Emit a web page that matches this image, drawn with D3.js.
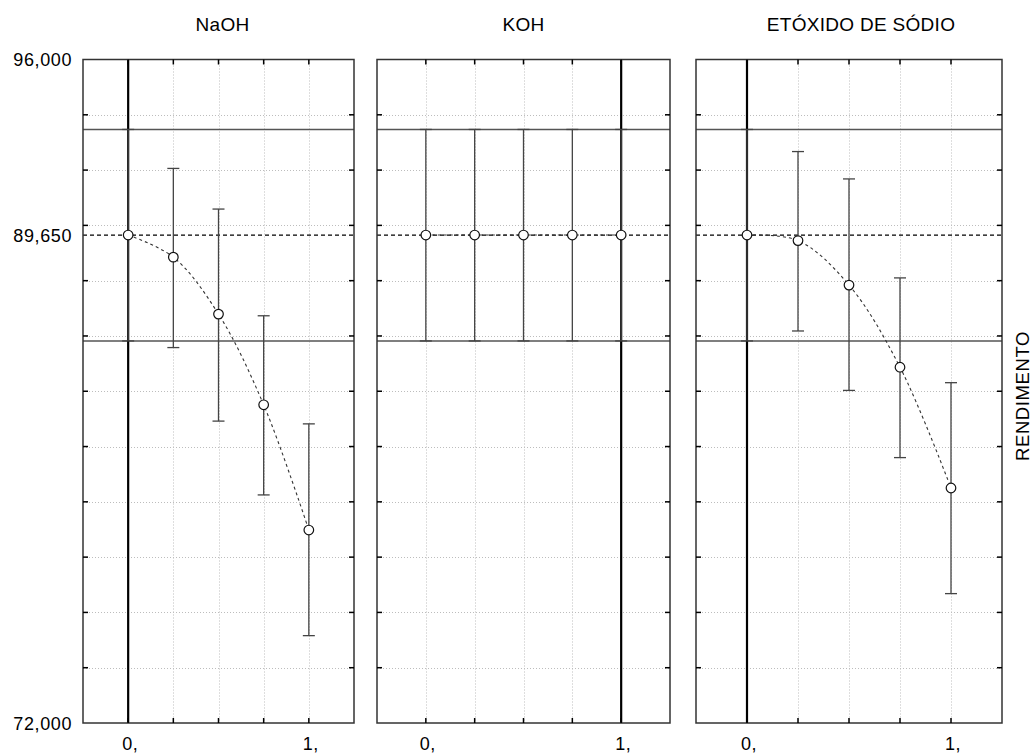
<!DOCTYPE html>
<html><head><meta charset="utf-8">
<script src="https://cdn.jsdelivr.net/npm/d3@7"></script>
<style>
body{margin:0;background:#fff;}
text{font-family:"Liberation Sans",Arial,sans-serif;fill:#000;}
</style></head>
<body><svg id="c" width="1033" height="754"></svg>
<script>
// ---- data ----
const groups = ["NaOH", "KOH", "ETÓXIDO DE SÓDIO"];
const levels = [0, 0.25, 0.5, 0.75, 1];
const currentLevel = [0, 1, 0];
const naohMean = [89.65, 88.85, 86.79, 83.51, 78.98];
const naohLow  = [85.82, 85.58, 82.92, 80.25, 75.16];
const naohHigh = [93.47, 92.06, 90.59, 86.73, 82.82];
const kohMean = [89.65, 89.65, 89.65, 89.65, 89.65];
const kohLow  = [85.82, 85.82, 85.82, 85.82, 85.82];
const kohHigh = [93.47, 93.47, 93.47, 93.47, 93.47];
const etoMean = [89.65, 89.45, 87.84, 84.87, 80.50];
const etoLow  = [85.82, 86.18, 84.03, 81.60, 76.68];
const etoHigh = [93.47, 92.67, 91.68, 88.10, 84.31];
const overallMean = 89.65;
const limitLow = 85.82, limitHigh = 93.47;
const yTickLabels = [96, 89.65, 72];
const xTickLabels = [0, 1];
const yDomain = [72, 96];
const xDomain = [-0.25, 1.25];
const gridStepY = 2;
const yLabel = "RENDIMENTO";

const series = [
  {mean: naohMean, low: naohLow, high: naohHigh},
  {mean: kohMean, low: kohLow, high: kohHigh},
  {mean: etoMean, low: etoLow, high: etoHigh}
];

// ---- layout ----
const panels = [[83, 354], [377, 670], [696, 1002]];
const titleShift = [4, 0, 12];
const yTop = 59.5, yBot = 723;
const svg = d3.select("#c");
const y = d3.scaleLinear().domain(yDomain).range([yBot, yTop]);
const loc = d3.formatLocale({decimal: ",", thousands: ".", grouping: [3], currency: ["", ""]});
const fmtY = loc.format(".3f");
const gridY = d3.range(yDomain[0] + gridStepY, yDomain[1], gridStepY);

groups.forEach((g, i) => {
  const [x0, x1] = panels[i];
  const x = d3.scaleLinear().domain(xDomain).range([x0, x1]);
  const s = series[i];
  const p = svg.append("g");

  // grid
  p.selectAll(".gx").data(levels).enter().append("line")
    .attr("x1", d => Math.round(x(d)) + 0.5).attr("x2", d => Math.round(x(d)) + 0.5)
    .attr("y1", yTop).attr("y2", yBot)
    .attr("stroke", "#bdbdbd").attr("stroke-dasharray", "1,2");
  p.selectAll(".gy").data(gridY).enter().append("line")
    .attr("x1", x0).attr("x2", x1)
    .attr("y1", d => Math.round(y(d)) + 0.5).attr("y2", d => Math.round(y(d)) + 0.5)
    .attr("stroke", "#bdbdbd").attr("stroke-dasharray", "1,2");

  // limit lines
  [limitLow, limitHigh].forEach(v => {
    p.append("line").attr("x1", x0).attr("x2", x1)
      .attr("y1", y(v)).attr("y2", y(v))
      .attr("stroke", "#555").attr("stroke-width", 1.5);
  });
  // mean dashed line
  p.append("line").attr("x1", x0).attr("x2", x1)
    .attr("y1", y(overallMean)).attr("y2", y(overallMean))
    .attr("stroke", "#000").attr("stroke-width", 1.3).attr("stroke-dasharray", "4,3");

  // current level thick line
  p.append("line").attr("x1", x(currentLevel[i])).attr("x2", x(currentLevel[i]))
    .attr("y1", yTop).attr("y2", yBot)
    .attr("stroke", "#000").attr("stroke-width", 2.2);

  // error bars
  const eb = p.selectAll(".eb").data(levels).enter().append("g");
  eb.append("line").attr("x1", d => x(d)).attr("x2", d => x(d))
    .attr("y1", (d, k) => y(s.high[k])).attr("y2", (d, k) => y(s.low[k]))
    .attr("stroke", "#444").attr("stroke-width", 1.3);
  eb.append("line").attr("x1", d => x(d) - 6).attr("x2", d => x(d) + 6)
    .attr("y1", (d, k) => y(s.high[k])).attr("y2", (d, k) => y(s.high[k]))
    .attr("stroke", "#444").attr("stroke-width", 1.3);
  eb.append("line").attr("x1", d => x(d) - 6).attr("x2", d => x(d) + 6)
    .attr("y1", (d, k) => y(s.low[k])).attr("y2", (d, k) => y(s.low[k]))
    .attr("stroke", "#444").attr("stroke-width", 1.3);

  // connecting curve
  const line = d3.line().x((d) => x(d[0])).y(d => y(d[1])).curve(d3.curveCatmullRom.alpha(0.5));
  p.append("path").datum(levels.map((l, k) => [l, s.mean[k]]))
    .attr("d", line).attr("fill", "none")
    .attr("stroke", "#333").attr("stroke-width", 1.1).attr("stroke-dasharray", "3,3");

  // points
  p.selectAll(".pt").data(levels).enter().append("circle")
    .attr("cx", d => x(d)).attr("cy", (d, k) => y(s.mean[k])).attr("r", 4.8)
    .attr("fill", "#fff").attr("stroke", "#111").attr("stroke-width", 1.2);

  // border
  p.append("rect").attr("x", x0).attr("y", yTop).attr("width", x1 - x0).attr("height", yBot - yTop)
    .attr("fill", "none").attr("stroke", "#333").attr("stroke-width", 1.5);

  // inward ticks
  const tl = 5;
  gridY.forEach(v => {
    p.append("line").attr("x1", x0).attr("x2", x0 + tl).attr("y1", y(v)).attr("y2", y(v)).attr("stroke", "#000").attr("stroke-width", 1.5);
    p.append("line").attr("x1", x1 - tl).attr("x2", x1).attr("y1", y(v)).attr("y2", y(v)).attr("stroke", "#000").attr("stroke-width", 1.5);
  });
  levels.forEach(v => {
    p.append("line").attr("x1", x(v)).attr("x2", x(v)).attr("y1", yTop).attr("y2", yTop + tl).attr("stroke", "#000").attr("stroke-width", 1.5);
    p.append("line").attr("x1", x(v)).attr("x2", x(v)).attr("y1", yBot - tl).attr("y2", yBot).attr("stroke", "#000").attr("stroke-width", 1.5);
  });

  // x labels
  p.selectAll(".xl").data(xTickLabels).enter().append("text")
    .attr("x", d => x(d) - 6).attr("y", 750)
    .attr("font-size", 18).attr("letter-spacing", 0.5)
    .text(d => d + ",");

  // title
  p.append("text").attr("x", (x0 + x1) / 2 + titleShift[i]).attr("y", 31)
    .attr("text-anchor", "middle").attr("font-size", 19).attr("letter-spacing", 0.3)
    .text(g);

  // y labels on first panel
  if (i === 0) {
    p.selectAll(".yl").data(yTickLabels).enter().append("text")
      .attr("x", 72).attr("y", d => y(d) + 6.5)
      .attr("text-anchor", "end").attr("font-size", 18).attr("letter-spacing", 0.6)
      .text(d => fmtY(d));
  }
});

svg.append("text").attr("transform", "translate(1029,396) rotate(-90)")
  .attr("text-anchor", "middle").attr("font-size", 18.5).attr("letter-spacing", 0.6)
  .text(yLabel);
</script></body></html>
